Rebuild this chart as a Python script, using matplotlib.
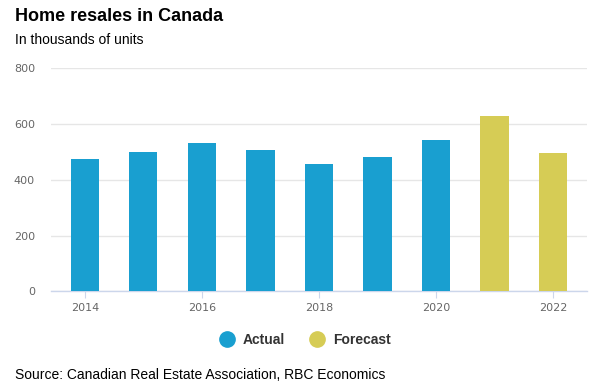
import matplotlib.pyplot as plt
from matplotlib.lines import Line2D

# Data
years = [2014, 2015, 2016, 2017, 2018, 2019, 2020, 2021, 2022]
resales = [473, 501, 533, 508, 455, 483, 544, 629, 497]
kind = ['Actual'] * 7 + ['Forecast'] * 2
xticks = [2014, 2016, 2018, 2020, 2022]
yticks = [0, 200, 400, 600, 800]

blue = '#199fd0'
yellow = '#d6cc55'
colors = [blue if k == 'Actual' else yellow for k in kind]

plt.rcParams['font.family'] = ['Liberation Sans', 'DejaVu Sans']

fig = plt.figure(figsize=(6.07, 3.89), dpi=100)
ax = fig.add_axes([0.084, 0.2511, 0.883, 0.5733])

ax.bar(years, resales, width=0.48, color=colors, zorder=3)

ax.set_xlim(2013.42, 2022.58)
ax.set_ylim(0, 800)
ax.set_yticks(yticks)
ax.set_xticks(xticks)
ax.grid(axis='y', color='#e6e6e6', linewidth=1, zorder=0)

for s in ['top', 'right', 'left']:
    ax.spines[s].set_visible(False)
ax.spines['bottom'].set_color('#ccd6eb')
ax.spines['bottom'].set_linewidth(1)

ax.tick_params(axis='y', length=0, pad=11.5, labelcolor='#666666', labelsize=8)
ax.tick_params(axis='x', length=5, color='#ccd6eb', pad=3.5, labelcolor='#666666', labelsize=8)
for lbl in ax.get_xticklabels() + ax.get_yticklabels():
    lbl.set_family('DejaVu Sans')

fig.text(0.025, 0.957, 'Home resales in Canada', fontsize=13, fontweight='bold',
         color='#000000', va='center')
fig.text(0.025, 0.897, 'In thousands of units', fontsize=10, color='#000000', va='center')
fig.text(0.025, 0.037, 'Source: Canadian Real Estate Association, RBC Economics',
         fontsize=10, color='#000000', va='center')

handles = [Line2D([], [], marker='o', linestyle='none', markersize=11, color=blue),
           Line2D([], [], marker='o', linestyle='none', markersize=11, color=yellow)]
leg = fig.legend(handles, ['Actual', 'Forecast'], loc='center', bbox_to_anchor=(0.497, 0.127),
                 ncol=2, frameon=False, handletextpad=0.15, columnspacing=1.3,
                 prop={'weight': 'bold', 'size': 10})
for t in leg.get_texts():
    t.set_color('#333333')

fig.savefig('out.png', dpi=100)
